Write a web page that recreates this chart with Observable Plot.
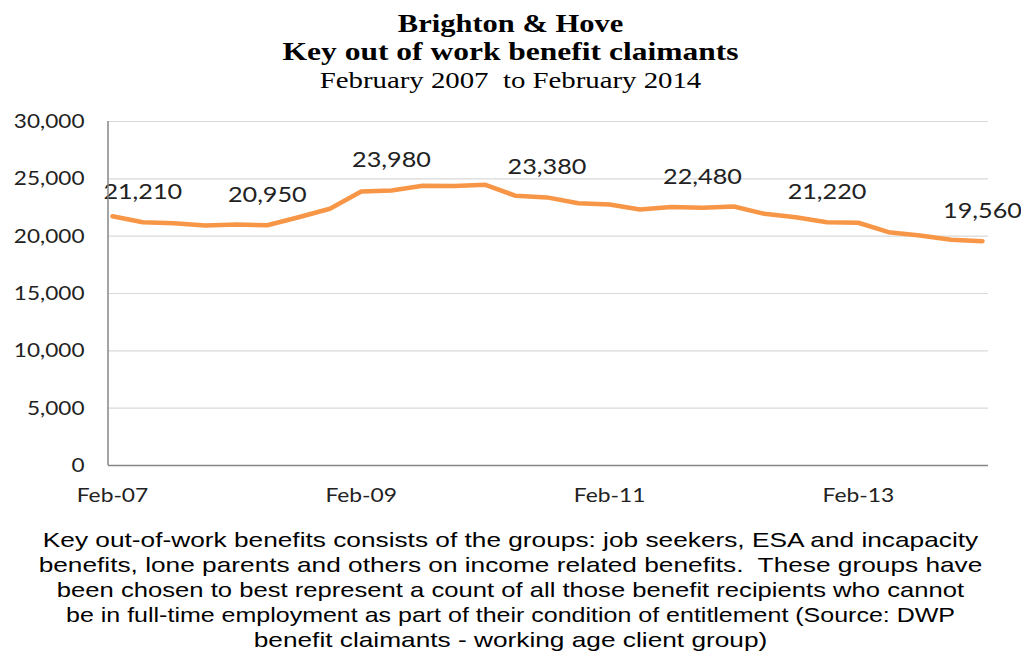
<!DOCTYPE html>
<html>
<head>
<meta charset="utf-8">
<script src="https://cdn.jsdelivr.net/npm/d3@7"></script>
<script src="https://cdn.jsdelivr.net/npm/@observablehq/plot@0.6"></script>
<style>
  body { margin: 0; background: #fff; width: 1021px; height: 662px; overflow: hidden; }
  #title { height: 100px; box-sizing: border-box; padding-top: 10px; text-align: center; font-family: "Liberation Serif", serif; color: #000; }
  #title div { line-height: 28px; }
  #t1, #t2 { font-weight: bold; font-size: 25px; }
  #t1 { transform: scaleX(1.22); }
  #t2 { transform: scaleX(1.26); }
  #t3 { font-size: 24px; transform: scaleX(1.2); }
  #chart svg { display: block; }
  #note { box-sizing: border-box; padding-top: 12px; text-align: center; font-family: "Liberation Sans", Arial, sans-serif; font-size: 21px; line-height: 25px; color: #000; }
  #note div { transform: scaleX(1.25); }
  #note .n3 { transform: scaleX(1.22); }
  #note .n4 { transform: scaleX(1.19); }
</style>
</head>
<body>
<div id="title">
  <div id="t1">Brighton &amp; Hove</div>
  <div id="t2">Key out of work benefit claimants</div>
  <div id="t3">February 2007&nbsp; to February 2014</div>
</div>
<div id="chart"></div>
<div id="note">
  <div class="n1">Key out-of-work benefits consists of the groups: job seekers, ESA and incapacity</div>
  <div class="n2">benefits, lone parents and others on income related benefits.&nbsp; These groups have</div>
  <div class="n3">been chosen to best represent a count of all those benefit recipients who cannot</div>
  <div class="n4">be in full-time employment as part of their condition of entitlement (Source: DWP</div>
  <div class="n5">benefit claimants - working age client group)</div>
</div>
<script>
const periods = [
  "2007-02","2007-05","2007-08","2007-11",
  "2008-02","2008-05","2008-08","2008-11",
  "2009-02","2009-05","2009-08","2009-11",
  "2010-02","2010-05","2010-08","2010-11",
  "2011-02","2011-05","2011-08","2011-11",
  "2012-02","2012-05","2012-08","2012-11",
  "2013-02","2013-05","2013-08","2013-11",
  "2014-02"
];
const claimants = [
  21740, 21210, 21120, 20930,
  21020, 20950, 21650, 22390,
  23900, 23980, 24390, 24370,
  24480, 23520, 23380, 22870,
  22760, 22330, 22540, 22480,
  22590, 21950, 21650, 21220,
  21170, 20350, 20060, 19680,
  19560
];
const labelledPeriods = ["2007-05","2008-05","2009-05","2010-08","2011-11","2012-11","2014-02"];
const xTicks = ["2007-02","2009-02","2011-02","2013-02"];
const yTicks = [0, 5000, 10000, 15000, 20000, 25000, 30000];

const parse = s => new Date(Date.UTC(+s.slice(0,4), +s.slice(5,7) - 1, 1));
const data = periods.map((p, i) => ({date: parse(p), value: claimants[i], key: p}));
const labelData = data.filter(d => labelledPeriods.includes(d.key));
const fmtDate = d3.utcFormat("%b-%y");

const chart = Plot.plot({
  width: 1021,
  height: 415,
  marginTop: 21,
  marginBottom: 50,
  marginLeft: 108,
  marginRight: 33,
  style: {fontFamily: "Lato, sans-serif", fontSize: "20px", color: "#222", background: "#fff", overflow: "visible"},
  x: {type: "utc", insetLeft: 4, insetRight: 6, domain: [parse(periods[0]), parse(periods[periods.length - 1])]},
  y: {domain: [0, 30000]},
  marks: [
    Plot.ruleY(yTicks.filter(v => v > 0), {stroke: "#d9d9d9", strokeWidth: 1.2}),
    Plot.ruleY([0], {stroke: "#868686", strokeWidth: 1.5}),
    Plot.axisY({ticks: yTicks, tickSize: 0, tickPadding: 24, tickFormat: d3.format(","), label: null, fontSize: 20}),
    Plot.axisX({ticks: xTicks.map(parse), tickSize: 0, tickPadding: 23, tickFormat: fmtDate, label: null, fontSize: 19}),
    Plot.line(data, {x: "date", y: "value", stroke: "#f79646", strokeWidth: 4.5, strokeLinejoin: "round", strokeLinecap: "round"}),
    Plot.text(labelData, {x: "date", y: "value", text: d => d3.format(",")(d.value), dy: -30, fontSize: 21, fill: "#222"})
  ]
});
document.getElementById("chart").appendChild(chart);
const svg = d3.select(chart);
// left vertical axis line
svg.append("line")
  .attr("x1", 108).attr("x2", 108)
  .attr("y1", 21).attr("y2", 415 - 50)
  .attr("stroke", "#868686").attr("stroke-width", 1.5);
// widen the glyphs horizontally around each text's anchor, like the reference
function widen(sel, k) {
  sel.each(function() {
    const tr = this.getAttribute("transform") || "";
    let x = parseFloat(this.getAttribute("x"));
    if (!isFinite(x)) x = 0;
    this.setAttribute("transform", `${tr} translate(${x},0) scale(${k},1) translate(${-x},0)`.trim());
  });
}
widen(svg.selectAll('g[aria-label="y-axis tick label"] text'), 1.13);
widen(svg.selectAll('g[aria-label="x-axis tick label"] text'), 1.2);
widen(svg.selectAll('g[aria-label="text"] text'), 1.2);
</script>
</body>
</html>
